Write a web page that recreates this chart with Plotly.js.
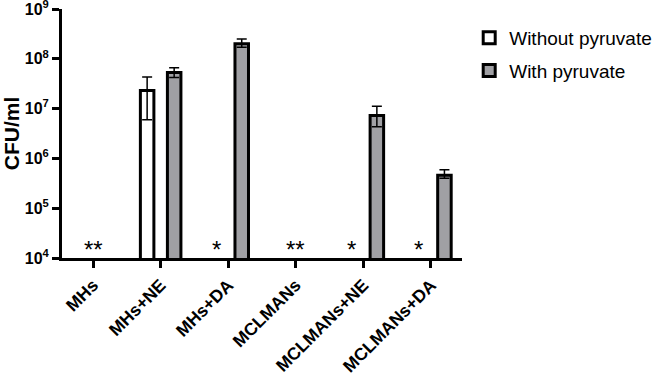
<!DOCTYPE html>
<html>
<head>
<meta charset="utf-8">
<script src="https://cdn.plot.ly/plotly-3.0.1.min.js"></script>
<style>html,body{margin:0;padding:0;background:#fff}#chart{width:655px;height:375px}</style>
</head>
<body>
<div id="chart"></div>
<script>
const categories = ["MHs", "MHs+NE", "MHs+DA", "MCLMANs", "MCLMANs+NE", "MCLMANs+DA"];
const withoutPyruvate = [null, 2.3e7, null, null, null, null];
const withoutErrPlus = [0, 2.0e7, 0, 0, 0, 0];
const withoutErrMinus = [0, 1.7e7, 0, 0, 0, 0];
const withPyruvate = [null, 5.3e7, 2.0e8, null, 7.3e6, 4.6e5];
const withErrPlus = [0, 1.3e7, 5.0e7, 0, 3.8e6, 1.3e5];
const withErrMinus = [0, 1.1e7, 3.0e7, 0, 3.0e6, 0.6e5];
const starCategories = ["MHs", "MHs+DA", "MCLMANs", "MCLMANs+NE", "MCLMANs+DA"];
const starTexts = ["**", "*", "**", "*", "*"];
const yTickVals = [1e4, 1e5, 1e6, 1e7, 1e8, 1e9];
const yTickText = ["10<sup>4</sup>", "10<sup>5</sup>", "10<sup>6</sup>", "10<sup>7</sup>", "10<sup>8</sup>", "10<sup>9</sup>"];

const font = "Liberation Sans, Arial, sans-serif";

const traces = [
  {
    type: "bar", name: "Without pyruvate", x: categories, y: withoutPyruvate,
    legendgroup: "a",
    marker: {color: "#ffffff", line: {color: "#000000", width: 3}},
    error_y: {type: "data", symmetric: false, array: withoutErrPlus, arrayminus: withoutErrMinus,
      color: "#000000", thickness: 1.5, width: 5}
  },
  {
    type: "bar", name: "With pyruvate", x: categories, y: withPyruvate,
    legendgroup: "b",
    marker: {color: "#a0a0a4", line: {color: "#000000", width: 3}},
    error_y: {type: "data", symmetric: false, array: withErrPlus, arrayminus: withErrMinus,
      color: "#000000", thickness: 1.5, width: 5}
  }
];

const annotations = starCategories.map((c, i) => ({
  x: c, y: 4, xref: "x", yref: "y", text: starTexts[i], showarrow: false,
  xshift: starTexts[i] === "*" ? -12 : 0, yanchor: "bottom", yshift: -7,
  font: {family: font, size: 24, color: "#000"}
}));

const layout = {
  width: 655, height: 375,
  margin: {l: 62, r: 193, t: 9, b: 117, autoexpand: false},
  paper_bgcolor: "#fff", plot_bgcolor: "#fff",
  barmode: "group", bargap: 0.2, bargroupgap: 0.5,
  showlegend: true,
  legend: {x: 1.018, xanchor: "left", y: 0.96, yanchor: "top", tracegroupgap: 5,
    font: {family: font, size: 19, color: "#000"}},
  xaxis: {
    type: "category", range: [-0.46, 5.46], automargin: false,
    showline: true, linecolor: "#000", linewidth: 3,
    ticks: "outside", ticklen: 7, tickwidth: 3, tickcolor: "#000",
    tickangle: -45, tickfont: {family: font, size: 17.5, color: "#000", weight: "bold"},
    showgrid: false, zeroline: false, fixedrange: true
  },
  yaxis: {
    type: "log", range: [4, 9], automargin: false,
    tickmode: "array", tickvals: yTickVals, ticktext: yTickText,
    ticklabeloverflow: "allow",
    showline: true, linecolor: "#000", linewidth: 3,
    ticks: "outside", ticklen: 7, tickwidth: 3, tickcolor: "#000",
    tickfont: {family: font, size: 16, color: "#000", weight: "bold"},
    showgrid: false, zeroline: false,
    title: {text: "CFU/ml", font: {family: font, size: 21, color: "#000", weight: "bold"}, standoff: 10}
  },
  annotations: annotations
};

Plotly.newPlot("chart", traces, layout, {displayModeBar: false, staticPlot: true});
</script>
</body>
</html>
